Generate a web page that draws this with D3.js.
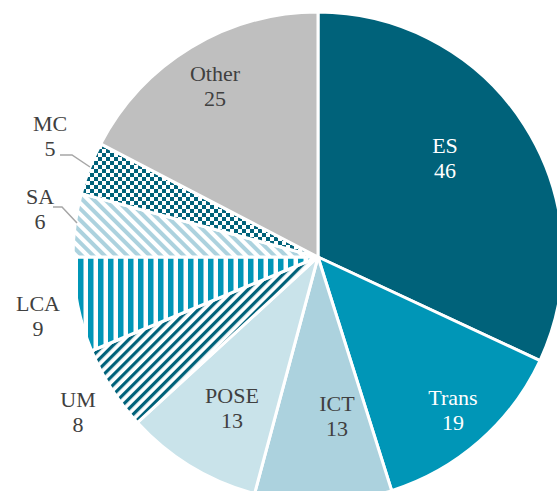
<!DOCTYPE html>
<html>
<head>
<meta charset="utf-8">
<script src="https://cdn.jsdelivr.net/npm/d3@7"></script>
<style>
  body { margin: 0; background: #fff; }
  svg { display: block; }
</style>
</head>
<body>
<svg id="chart" width="557" height="491"></svg>
<script>
var categories = ['ES', 'Trans', 'ICT', 'POSE', 'UM', 'LCA', 'SA', 'MC', 'Other'];
var values = [46, 19, 13, 13, 8, 9, 6, 5, 25];

var width = 557, height = 491;
var cx = 318, cy = 257, radius = 245;
var fontStack = "'Times New Roman', Times, 'Liberation Serif', 'DejaVu Serif', 'Noto Serif', serif";

// fill per slice (solid or pattern id)
var fills = ['#00627a', '#0096b7', '#acd2de', '#c9e3ea', 'url(#um)', 'url(#lca)', 'url(#sa)', 'url(#mc)', '#bfbfbf'];
var labelColor = ['#fff', '#fff', '#404040', '#404040', '#404040', '#404040', '#404040', '#404040', '#404040'];
// label anchor (first baseline) per slice
var labelPos = [[445, 153], [453, 405], [337, 411], [232, 403], [78, 407], [38, 311], [40, 204], [50, 131], [215, 81]];

var svg = d3.select('#chart');
var defs = svg.append('defs');

// UM: dark diagonal stripes "/"
var p = defs.append('pattern').attr('id', 'um').attr('patternUnits', 'userSpaceOnUse')
  .attr('width', 7).attr('height', 7).attr('patternTransform', 'rotate(45)');
p.append('rect').attr('width', 7).attr('height', 7).attr('fill', '#fff');
p.append('rect').attr('width', 3.2).attr('height', 7).attr('fill', '#00627a');

// LCA: vertical stripes
p = defs.append('pattern').attr('id', 'lca').attr('patternUnits', 'userSpaceOnUse')
  .attr('width', 10).attr('height', 10);
p.append('rect').attr('width', 10).attr('height', 10).attr('fill', '#fff');
p.append('rect').attr('width', 5.5).attr('height', 10).attr('fill', '#0096b7');

// SA: light diagonal stripes "\"
p = defs.append('pattern').attr('id', 'sa').attr('patternUnits', 'userSpaceOnUse')
  .attr('width', 8).attr('height', 8).attr('patternTransform', 'rotate(-45)');
p.append('rect').attr('width', 8).attr('height', 8).attr('fill', '#fff');
p.append('rect').attr('width', 4).attr('height', 8).attr('fill', '#acd2de');

// MC: checkerboard
p = defs.append('pattern').attr('id', 'mc').attr('patternUnits', 'userSpaceOnUse')
  .attr('width', 8).attr('height', 8);
p.append('rect').attr('width', 8).attr('height', 8).attr('fill', '#fff');
p.append('rect').attr('width', 4).attr('height', 4).attr('fill', '#00627a');
p.append('rect').attr('x', 4).attr('y', 4).attr('width', 4).attr('height', 4).attr('fill', '#00627a');

var pie = d3.pie().sort(null).value(function(d) { return d; });
var arcs = pie(values);
var arc = d3.arc().innerRadius(0).outerRadius(radius);

var g = svg.append('g').attr('transform', 'translate(' + cx + ',' + cy + ')');

g.selectAll('path')
  .data(arcs)
  .enter()
  .append('path')
  .attr('d', arc)
  .attr('fill', function(d, i) { return fills[i]; })
  .attr('stroke', '#fff')
  .attr('stroke-width', 3)
  .attr('stroke-linejoin', 'round');

var labels = svg.selectAll('text.lbl')
  .data(arcs)
  .enter()
  .append('text')
  .attr('class', 'lbl')
  .attr('text-anchor', 'middle')
  .attr('font-family', fontStack)
  .attr('font-size', 22)
  .attr('fill', function(d, i) { return labelColor[i]; })
  .attr('transform', function(d, i) {
    return 'translate(' + labelPos[i][0] + ',' + labelPos[i][1] + ')';
  });

labels.append('tspan').attr('x', 0).attr('y', 0).text(function(d, i) { return categories[i]; });
labels.append('tspan').attr('x', 0).attr('y', 25).text(function(d) { return d.value; });

// leader lines for the small slices MC and SA
var leaders = [
  { i: 7, pts: [[60, 155], [72, 155], [90, 167]] },
  { i: 6, pts: [[53, 207], [62, 207], [77, 223]] }
];
svg.selectAll('path.leader')
  .data(leaders)
  .enter()
  .append('path')
  .attr('class', 'leader')
  .attr('d', function(d) { return d3.line()(d.pts); })
  .attr('fill', 'none')
  .attr('stroke', '#a6a6a6')
  .attr('stroke-width', 1.5);
</script>
</body>
</html>
